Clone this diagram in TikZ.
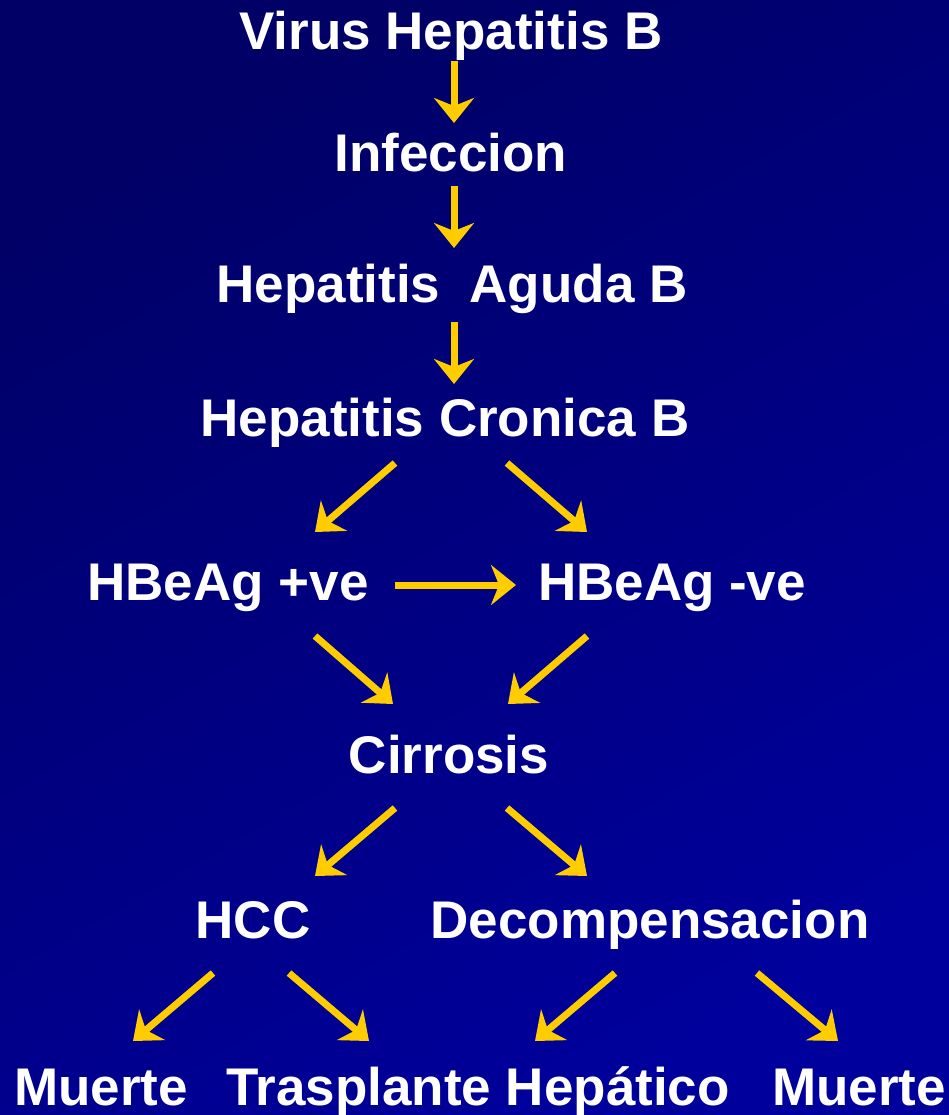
\documentclass[tikz,border=0pt]{standalone}
\usepackage{fontspec}
\setmainfont{Liberation Sans}
\usetikzlibrary{arrows.meta}
\definecolor{bgA}{HTML}{000066}
\definecolor{bgB}{HTML}{00009C}
\definecolor{arr}{HTML}{FFCC00}
\begin{document}
\begin{tikzpicture}[x=1pt,y=-1pt,
  lbl/.style={text=white,font=\fontsize{53}{60}\selectfont\bfseries,anchor=base,inner sep=0pt},
  flow/.style={draw=arr,line width=7pt,-{Stealth[length=25pt,width=40pt,inset=8pt]}}]
\useasboundingbox (0,0) rectangle (949,1115);
\shade[top color=bgA,bottom color=bgB,shading angle=30] (0,0) rectangle (949,1115);
\node[lbl] (virus) at (451,50) {Virus Hepatitis B};
\node[lbl] (inf) at (451,172) {Infeccion};
\node[lbl] (aguda) at (452,302) {Hepatitis\ \ Aguda B};
\node[lbl] (cron) at (445,436) {Hepatitis Cronica B};
\node[lbl] (pos) at (228,600) {HBeAg +ve};
\node[lbl] (neg) at (672,600) {HBeAg -ve};
\node[lbl] (cirr) at (449,773) {Cirrosis};
\node[lbl] (hcc) at (253,938) {HCC};
\node[lbl] (dec) at (650,938) {Decompensacion};
\node[lbl] (m1) at (101,1105) {Muerte};
\node[lbl] (tras) at (478,1105) {Trasplante Hepático};
\node[lbl] (m2) at (859,1105) {Muerte};
% arrow endpoints
\coordinate (a1s) at (454,61); \coordinate (a1e) at (454,123);
\coordinate (a2s) at (454,186); \coordinate (a2e) at (454,248);
\coordinate (a3s) at (454,322); \coordinate (a3e) at (454,384);
\coordinate (b1s) at (395,463); \coordinate (b1e) at (315,532);
\coordinate (b2s) at (507,463); \coordinate (b2e) at (587,532);
\coordinate (hs) at (395,585); \coordinate (he) at (516,585);
\coordinate (c1s) at (315,636); \coordinate (c1e) at (393,704);
\coordinate (c2s) at (587,636); \coordinate (c2e) at (508,704);
\coordinate (d1s) at (395,808); \coordinate (d1e) at (315,876);
\coordinate (d2s) at (507,808); \coordinate (d2e) at (587,876);
\coordinate (e1s) at (213,973); \coordinate (e1e) at (133,1041);
\coordinate (e2s) at (289,973); \coordinate (e2e) at (369,1041);
\coordinate (e3s) at (615,973); \coordinate (e3e) at (535,1041);
\coordinate (e4s) at (757,973); \coordinate (e4e) at (838,1041);
\foreach \s/\e in {a1s/a1e,a2s/a2e,a3s/a3e,b1s/b1e,b2s/b2e,hs/he,c1s/c1e,c2s/c2e,d1s/d1e,d2s/d2e,e1s/e1e,e2s/e2e,e3s/e3e,e4s/e4e}
  \draw[flow] (\s) -- (\e);
\end{tikzpicture}
\end{document}
